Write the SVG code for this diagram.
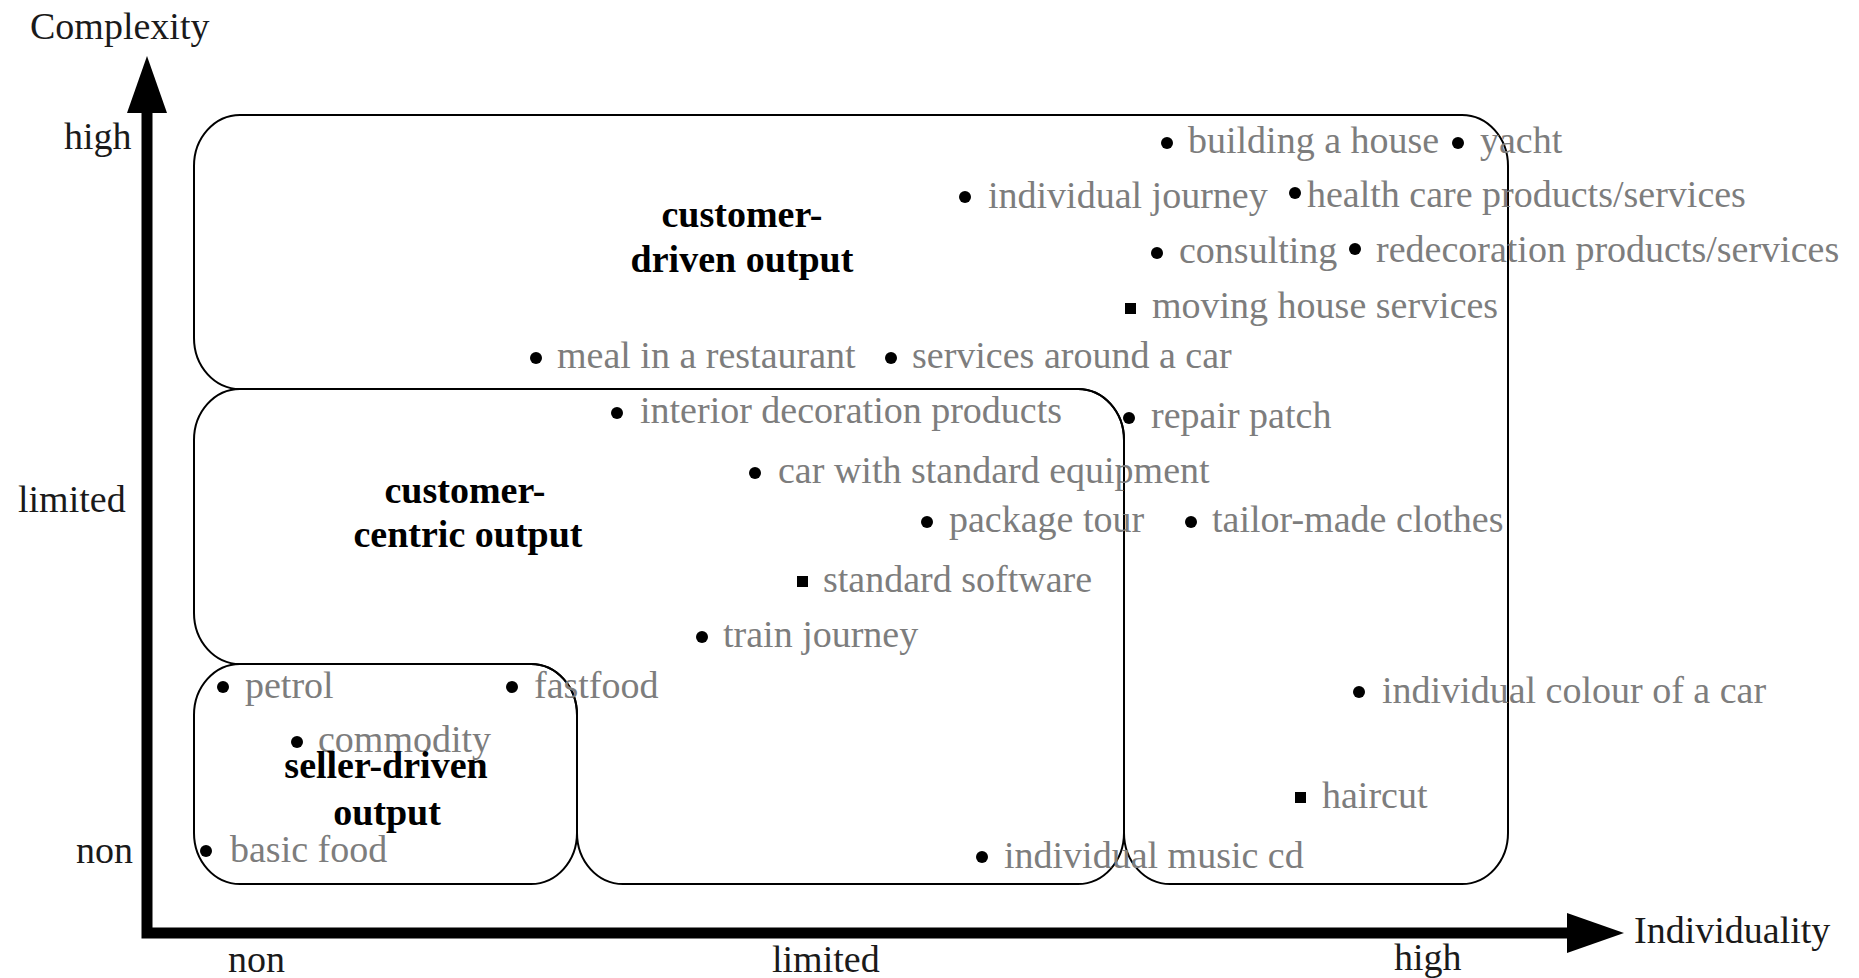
<svg xmlns="http://www.w3.org/2000/svg" width="1859" height="978" viewBox="0 0 1859 978">
  <style>
    text { font-family: "Liberation Serif", "Times New Roman", serif; font-size: 38px; }
    .axis-label { fill: #1a1a1a; }
    .region-title { font-weight: bold; fill: #000; text-anchor: middle; }
    .item { fill: #7d7d7d; }
    .region { fill: none; stroke: #000; stroke-width: 2; }
    .dot { fill: #000; }
    .axis { fill: none; stroke: #000; stroke-width: 11; stroke-linejoin: miter; }
  </style>
  <defs>
    <marker id="axis-head" markerUnits="userSpaceOnUse" markerWidth="60" markerHeight="42" refX="0" refY="20" orient="auto-start-reverse">
      <path d="M0,0 L57,20 L0,40 Z" fill="#000"/>
    </marker>
  </defs>

  <rect width="1859" height="978" fill="#fff"/>

  <!-- axes -->
  <g id="axes">
    <path class="axis" d="M147,113 V933 H1567" marker-start="url(#axis-head)" marker-end="url(#axis-head)"/>
    <text class="axis-label" x="30" y="39">Complexity</text>
    <text class="axis-label" x="64" y="149">high</text>
    <text class="axis-label" x="18" y="512">limited</text>
    <text class="axis-label" x="76" y="863">non</text>
    <text class="axis-label" x="228" y="972">non</text>
    <text class="axis-label" x="772" y="972">limited</text>
    <text class="axis-label" x="1394" y="970">high</text>
    <text class="axis-label" x="1634" y="943">Individuality</text>
  </g>

  <!-- output regions -->
  <g id="regions">
    <g id="region-customer-driven">
      <path class="region" d="M240,115 H1462 A46 51 0 0 1 1508,166 V833 A46 51 0 0 1 1462,884 H1170 A46 51 0 0 1 1124,833 V440 A46 51 0 0 0 1078,389 H240 A46 51 0 0 1 194,338 V166 A46 51 0 0 1 240,115 Z"/>
      <text class="region-title" x="742" y="227">customer-</text>
      <text class="region-title" x="742" y="272">driven output</text>
    </g>
    <g id="region-customer-centric">
      <path class="region" d="M240,389 H1078 A46 51 0 0 1 1124,440 V833 A46 51 0 0 1 1078,884 H623 A46 51 0 0 1 577,833 V715 A46 51 0 0 0 531,664 H240 A46 51 0 0 1 194,613 V440 A46 51 0 0 1 240,389 Z"/>
      <text class="region-title" x="465" y="503">customer-</text>
      <text class="region-title" x="468" y="547">centric output</text>
    </g>
    <g id="region-seller-driven">
      <rect class="region" x="194" y="664" width="383" height="220" rx="46" ry="51"/>
    </g>
  </g>

  <!-- plotted outputs -->
  <g id="items">
    <g id="item-building-house"><circle class="dot" cx="1167" cy="143" r="6"/><text class="item" x="1188" y="153">building a house</text></g>
    <g id="item-yacht"><circle class="dot" cx="1458" cy="143" r="6"/><text class="item" x="1480" y="153">yacht</text></g>
    <g id="item-individual-journey"><circle class="dot" cx="965" cy="197" r="6"/><text class="item" x="988" y="208">individual journey</text></g>
    <g id="item-health-care"><circle class="dot" cx="1295" cy="193" r="6"/><text class="item" x="1307" y="207">health care products/services</text></g>
    <g id="item-consulting"><circle class="dot" cx="1157" cy="253" r="6"/><text class="item" x="1179" y="263">consulting</text></g>
    <g id="item-redecoration"><circle class="dot" cx="1355" cy="249" r="6"/><text class="item" x="1376" y="262">redecoration products/services</text></g>
    <g id="item-moving-house"><rect class="dot" x="1125" y="303" width="11" height="11"/><text class="item" x="1152" y="318">moving house services</text></g>
    <g id="item-meal"><circle class="dot" cx="536" cy="358" r="6"/><text class="item" x="557" y="368">meal in a restaurant</text></g>
    <g id="item-car-services"><circle class="dot" cx="891" cy="358" r="6"/><text class="item" x="912" y="368">services around a car</text></g>
    <g id="item-interior-decoration"><circle class="dot" cx="617" cy="413" r="6"/><text class="item" x="640" y="423">interior decoration products</text></g>
    <g id="item-repair-patch"><circle class="dot" cx="1129" cy="418" r="6"/><text class="item" x="1151" y="428">repair patch</text></g>
    <g id="item-standard-car"><circle class="dot" cx="755" cy="473" r="6"/><text class="item" x="778" y="483">car with standard equipment</text></g>
    <g id="item-package-tour"><circle class="dot" cx="927" cy="522" r="6"/><text class="item" x="949" y="532">package tour</text></g>
    <g id="item-tailor-made"><circle class="dot" cx="1191" cy="522" r="6"/><text class="item" x="1212" y="532">tailor-made clothes</text></g>
    <g id="item-standard-software"><rect class="dot" x="797" y="576" width="11" height="11"/><text class="item" x="823" y="592">standard software</text></g>
    <g id="item-train-journey"><circle class="dot" cx="702" cy="637" r="6"/><text class="item" x="723" y="647">train journey</text></g>
    <g id="item-petrol"><circle class="dot" cx="223" cy="687" r="6"/><text class="item" x="245" y="698">petrol</text></g>
    <g id="item-fastfood"><circle class="dot" cx="512" cy="687" r="6"/><text class="item" x="534" y="698">fastfood</text></g>
    <g id="item-colour-of-car"><circle class="dot" cx="1359" cy="692" r="6"/><text class="item" x="1382" y="703">individual colour of a car</text></g>
    <g id="item-commodity"><circle class="dot" cx="297" cy="742" r="6"/><text class="item" x="318" y="752">commodity</text></g>
    <g id="item-haircut"><rect class="dot" x="1295" y="792" width="11" height="11"/><text class="item" x="1322" y="808">haircut</text></g>
    <g id="item-basic-food"><circle class="dot" cx="206" cy="851" r="6"/><text class="item" x="230" y="862">basic food</text></g>
    <g id="item-music-cd"><circle class="dot" cx="982" cy="857" r="6"/><text class="item" x="1004" y="868">individual music cd</text></g>
  </g>

  <!-- seller-driven title drawn over the commodity label -->
  <g id="region-seller-driven-title">
    <text class="region-title" x="386" y="778">seller-driven</text>
    <text class="region-title" x="387" y="825">output</text>
  </g>
</svg>
